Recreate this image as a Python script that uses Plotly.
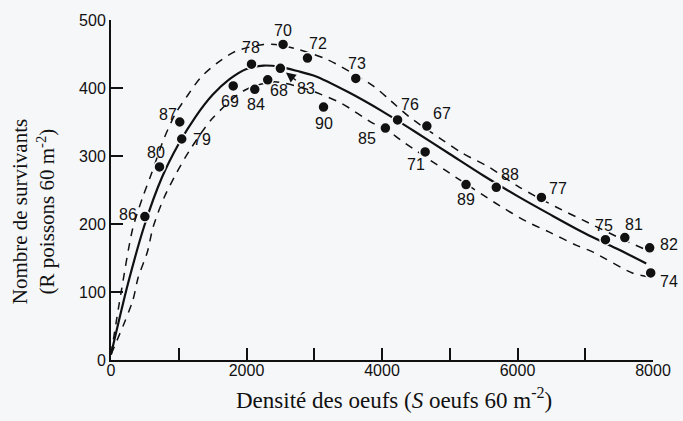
import plotly.graph_objects as go

# Observed points (egg density S, survivors R) and year labels
years = ["86", "80", "87", "79", "69", "78", "84", "68", "83", "70", "72", "90",
         "73", "85", "76", "71", "67", "89", "88", "77", "75", "81", "82", "74"]
dens = [500, 716, 1015, 1044, 1804, 2074, 2122, 2313, 2500, 2540, 2900, 3137,
        3613, 4050, 4230, 4637, 4662, 5240, 5687, 6353, 7298, 7584, 7951, 7966]
surv = [211, 284, 350, 325, 403, 435, 398, 412, 429, 464, 444, 372,
        414, 341, 353, 306, 344, 258, 254, 239, 177, 180, 165, 128]

# Fitted curve
fit_s = [0, 250, 500, 750, 1000, 1250, 1500, 1750, 2000, 2250, 2500, 2750, 3000,
         3500, 4000, 4500, 5000, 5500, 6000, 6500, 7000, 7500, 7900]
fit_r = [8, 112, 200, 268, 318, 358, 390, 413, 428, 433, 431, 425, 418,
         394, 366, 335, 303, 271, 241, 213, 186, 162, 142]

# Upper and lower dashed bands
up_s = [0, 150, 320, 470, 590, 780, 950, 1130, 1320, 1570, 1840, 2250, 2500, 2720,
        3190, 3870, 4120, 4410, 4900, 5190, 5590, 6030, 6570, 6960, 7580, 7950]
up_r = [8, 100, 193, 240, 272, 325, 362, 389, 415, 437, 454, 464, 463, 458,
        442, 403, 382, 357, 323, 304, 283, 254, 225, 206, 176, 160]
lo_s = [0, 320, 400, 540, 620, 784, 956, 1152, 1495, 1960, 2400, 2800, 3090, 3410,
        3870, 4050, 4310, 4950, 5735, 6128, 6471, 6863, 7108, 7696, 7960]
lo_r = [8, 87, 121, 160, 195, 239, 273, 307, 355, 396, 409, 401, 391, 377,
        348, 340, 321, 278, 227, 204, 188, 169, 159, 128, 122]

x_ticks = [0, 1000, 2000, 3000, 4000, 5000, 6000, 7000, 8000]
x_labels = ["0", "", "2000", "", "4000", "", "6000", "", "8000"]
y_ticks = [0, 100, 200, 300, 400, 500]

# label offsets in pixels (dx right, dy down) relative to each dot
lab_off = {
    "86": (-17, -2), "80": (-4, -14), "87": (-12, -8), "79": (20, 0),
    "69": (-3, 16), "78": (-1, -17), "84": (1, 15), "68": (11, 11),
    "70": (0, -14), "72": (11, -15), "90": (0, 16), "73": (1, -15),
    "85": (-18, 10), "76": (12, -15), "71": (-9, 13), "67": (15, -13),
    "89": (0, 15), "88": (14, -13), "77": (17, -9), "75": (-1, -14),
    "81": (9, -13), "82": (19, -3), "74": (18, 9),
}

BG = "#f6f7f9"
fig = go.Figure()
dash = "8px,7px"
fig.add_trace(go.Scatter(x=up_s, y=up_r, mode="lines", line=dict(color="#111", width=1.5, dash=dash, shape="spline", smoothing=0.8), hoverinfo="skip"))
fig.add_trace(go.Scatter(x=lo_s, y=lo_r, mode="lines", line=dict(color="#111", width=1.5, dash=dash, shape="spline", smoothing=0.8), hoverinfo="skip"))
fig.add_trace(go.Scatter(x=fit_s, y=fit_r, mode="lines", line=dict(color="#111", width=2.2, shape="spline", smoothing=0.8), hoverinfo="skip"))
fig.add_trace(go.Scatter(x=dens, y=surv, mode="markers", text=years,
                         marker=dict(size=11, color="#111", line=dict(color=BG, width=1.5)),
                         cliponaxis=False))

for yr, s, r in zip(years, dens, surv):
    if yr == "83":
        fig.add_annotation(x=s, y=r, text=yr, showarrow=True, ax=26, ay=20,
                           standoff=7, arrowhead=2, arrowsize=1.4, arrowwidth=1.4,
                           arrowcolor="#111", font=dict(family="Liberation Sans", size=16, color="#111"))
    else:
        dx, dy = lab_off[yr]
        fig.add_annotation(x=s, y=r, text=yr, showarrow=False, xshift=dx, yshift=-dy,
                           font=dict(family="Liberation Sans", size=16, color="#111"))

fig.add_annotation(xref="paper", yref="paper", x=0.523, y=-0.113, text="Densité des oeufs (<i>S</i> oeufs 60 m<sup>-2</sup>)",
                   showarrow=False, font=dict(family="Liberation Serif", size=23, color="#111"),
                   xanchor="center", yanchor="middle")
fig.add_annotation(xref="paper", yref="paper", x=-0.1436, y=0.435, text="Nombre de survivants<br>(R poissons 60 m<sup>-2</sup>)",
                   showarrow=False, textangle=-90, font=dict(family="Liberation Serif", size=21, color="#111"),
                   xanchor="center", yanchor="middle")

fig.update_layout(
    width=683, height=421, margin=dict(l=111, r=29, t=14, b=61),
    paper_bgcolor=BG, plot_bgcolor=BG, showlegend=False,
    xaxis=dict(range=[0, 8000], tickvals=x_ticks, ticktext=x_labels, ticks="inside", ticklen=12, tickwidth=2,
               tickcolor="#111", showline=True, linecolor="#111", linewidth=2, showgrid=False, zeroline=False,
               ticklabelstandoff=-5,
               tickfont=dict(family="Liberation Sans", size=16, color="#111")),
    yaxis=dict(range=[0, 500], tickvals=y_ticks, ticks="inside", ticklen=12, tickwidth=2,
               tickcolor="#111", showline=True, linecolor="#111", linewidth=2, showgrid=False, zeroline=False,
               tickfont=dict(family="Liberation Sans", size=16, color="#111")),
)
fig.write_html("out.html", config={"displayModeBar": False},
               post_script="document.body.style.margin='0';document.body.style.overflow='hidden';")
